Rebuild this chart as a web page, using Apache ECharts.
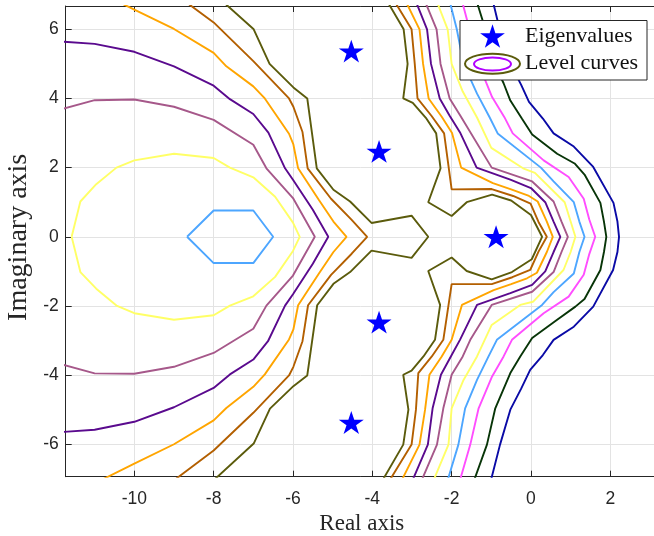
<!DOCTYPE html>
<html>
<head>
<meta charset="utf-8">
<script src="https://cdn.jsdelivr.net/npm/echarts@6/dist/echarts.min.js"></script>
<style>
  html, body { margin: 0; padding: 0; background: #ffffff; }
  #chart { width: 654px; height: 536px; }
</style>
</head>
<body>
<div id="chart"></div>
<script>
// Eigenvalues of the system matrix (real, imaginary)
const eigenvalues = [[-4.53, 5.37], [-3.83, 2.47], [-0.88, 0], [-3.83, -2.47], [-4.53, -5.37]];

// Level curves, right-hand family (top edge -> bottom edge)
const blueRight = [[-1.0,7],[-0.79,6],[-0.52,5],[-0.25,4.4],[-0.05,3.9],[0.30,3.42],[0.57,2.99],[1.08,2.61],[1.57,2.02],[2.08,0.98],[2.18,0.44],[2.22,0],[2.18,-0.44],[2.07,-0.96],[1.57,-2.02],[1.08,-2.6],[0.57,-2.98],[0.30,-3.42],[-0.02,-3.85],[-0.25,-4.4],[-0.52,-5.0],[-0.78,-6.01],[-1.0,-7]];
const greenRight = [[-1.42,7],[-1.15,6],[-0.92,5],[-0.69,4.44],[-0.52,3.94],[-0.23,3.42],[0.03,2.96],[0.66,2.4],[1.1,2.12],[1.35,1.8],[1.75,0.98],[1.84,0.44],[1.90,0],[1.84,-0.44],[1.75,-0.96],[1.35,-1.8],[1.12,-2.02],[0.66,-2.4],[0.03,-2.93],[-0.27,-3.46],[-0.52,-3.94],[-0.90,-4.96],[-1.11,-6.01],[-1.42,-7]];
const magentaRight = [[-1.78,7],[-1.55,6],[-1.32,5],[-0.98,4.04],[-0.67,3.46],[-0.46,2.99],[0.32,2.21],[0.95,1.73],[1.33,1.1],[1.47,0.5],[1.62,0],[1.47,-0.5],[1.33,-1.1],[0.95,-1.73],[0.32,-2.21],[-0.48,-2.98],[-0.69,-3.46],[-0.98,-4.04],[-1.32,-4.96],[-1.53,-6.01],[-1.78,-7]];
const lightBlueRight = [[-2.09,7],[-1.87,6],[-1.70,5],[-1.36,4.14],[-1.05,3.47],[-0.84,2.99],[0.25,2.0],[0.57,1.6],[1.08,1.0],[1.22,0.44],[1.35,0],[1.22,-0.44],[1.08,-1.06],[0.57,-1.6],[0.28,-1.97],[-0.86,-2.98],[-1.07,-3.46],[-1.36,-4.14],[-1.66,-4.96],[-1.83,-6.01],[-2.09,-7]];
const yellowRight = [[-2.44,7],[-2.10,6],[-2.0,5],[-1.72,4.2],[-1.36,3.45],[-1.0,2.57],[-0.2,1.98],[0.1,1.85],[0.85,1.0],[1.0,0.44],[1.12,0],[1.0,-0.44],[0.82,-0.96],[0.05,-1.88],[-0.27,-1.97],[-0.99,-2.55],[-1.36,-3.46],[-1.70,-4.14],[-2.0,-4.96],[-2.08,-6.01],[-2.44,-7]];
const mauveRight = [[-2.74,7],[-2.38,6],[-2.28,5],[-2.05,4],[-1.78,3.5],[-0.99,2.0],[0.03,1.6],[0.57,1.02],[0.77,0.44],[0.93,0],[0.77,-0.44],[0.57,-1.02],[0.03,-1.59],[-0.99,-1.97],[-1.53,-2.98],[-1.72,-3.46],[-2.0,-3.99],[-2.21,-4.96],[-2.37,-6.01],[-2.74,-7]];
const purpleRight = [[-2.97,7],[-2.62,6],[-2.52,5],[-2.30,4],[-2.05,3.5],[-1.78,3.0],[-1.37,2.0],[-0.52,1.65],[0.0,1.41],[0.36,1.0],[0.57,0.44],[0.74,0],[0.57,-0.44],[0.36,-1.0],[0.03,-1.39],[-0.52,-1.63],[-1.36,-1.97],[-1.79,-2.98],[-2.02,-3.46],[-2.27,-3.99],[-2.48,-4.96],[-2.60,-6.01],[-2.97,-7]];
const orangeRight = [[-3.24,7],[-2.81,6],[-2.72,5],[-2.58,4],[-2.25,3.47],[-1.99,3.0],[-1.76,2.0],[-0.96,1.55],[-0.5,1.37],[-0.05,1.18],[0.17,1.02],[0.40,0.44],[0.55,0],[0.40,-0.44],[0.15,-1.04],[-0.1,-1.2],[-0.5,-1.37],[-0.94,-1.54],[-1.74,-1.97],[-2.0,-2.98],[-2.25,-3.46],[-2.56,-3.99],[-2.67,-5.0],[-2.81,-6.01],[-3.24,-7]];
const brownRight = [[-3.54,7],[-3.01,6],[-2.93,5],[-2.86,4],[-2.51,3.5],[-2.19,2.99],[-2.0,1.37],[-0.99,1.38],[-0.45,1.18],[-0.01,0.96],[0.19,0.43],[0.40,0],[0.19,-0.43],[-0.02,-0.96],[-0.47,-1.17],[-0.99,-1.37],[-2.0,-1.37],[-2.21,-2.98],[-2.5,-3.46],[-2.84,-3.94],[-2.90,-5.0],[-3.01,-6.01],[-3.54,-7]];
const oliveRight = [[-3.72,7],[-3.21,6],[-3.11,5],[-3.22,4],[-2.98,3.87],[-2.65,3.44],[-2.39,2.99],[-2.28,1.98],[-2.59,1.0],[-2.0,0.6],[-1.62,1.0],[-0.98,1.22],[-0.50,1.05],[0.0,0.63],[0.28,0],[0.02,-0.65],[-0.48,-1.02],[-0.99,-1.23],[-1.62,-0.99],[-2.0,-0.6],[-2.59,-0.99],[-2.29,-1.97],[-2.42,-2.98],[-2.71,-3.46],[-3.01,-3.87],[-3.22,-3.99],[-3.09,-5.0],[-3.22,-6.01],[-3.72,-7]];

// Level curves, left-hand family
const oliveLeft = [[-7.96,7],[-6.99,6.0],[-6.59,5.0],[-5.99,4.32],[-5.64,4.0],[-5.40,1.98],[-4.98,1.36],[-4.56,1.02],[-4.02,0.40],[-3.01,0.61],[-2.59,0],[-3.01,-0.61],[-4.02,-0.40],[-4.56,-1.02],[-4.98,-1.36],[-5.39,-1.98],[-5.64,-4.01],[-5.99,-4.32],[-6.58,-4.97],[-6.99,-5.98],[-7.96,-7]];
const brownLeft = [[-8.95,7],[-8.0,6.2],[-7.0,5.08],[-6.1,4.0],[-5.99,3.76],[-5.76,3.03],[-5.63,1.98],[-5.04,1.1],[-4.52,0.49],[-4.13,0],[-4.52,-0.49],[-5.04,-1.1],[-5.62,-1.98],[-5.76,-3.02],[-5.99,-3.76],[-6.1,-4.01],[-7.0,-5.09],[-8.0,-6.18],[-8.95,-7]];
const orangeLeft = [[-10.77,7],[-10.0,6.57],[-9.0,6.01],[-8.0,5.32],[-7.68,4.93],[-7.0,4.35],[-6.71,4.0],[-6.10,2.98],[-5.99,2.67],[-5.87,1.98],[-5.35,1.07],[-4.98,0.44],[-4.65,0],[-4.98,-0.44],[-5.35,-1.07],[-5.87,-1.98],[-5.99,-2.68],[-6.10,-2.97],[-6.71,-3.98],[-7.0,-4.34],[-7.68,-4.95],[-8.0,-5.31],[-9.0,-6.0],[-10.0,-6.56],[-10.77,-7]];
const purpleLeft = [[-12,5.66],[-11,5.58],[-10,5.35],[-9,4.93],[-8,4.37],[-7.59,3.98],[-7,3.55],[-6.62,3.01],[-6.2,1.98],[-6.0,1.65],[-5.5,0.78],[-5.11,0],[-5.5,-0.78],[-6.0,-1.66],[-6.2,-1.99],[-6.63,-3.02],[-7,-3.55],[-7.59,-3.98],[-8,-4.37],[-9,-4.93],[-10,-5.35],[-11,-5.58],[-12,-5.66]];
const mauveLeft = [[-12,3.64],[-11,3.95],[-10,3.97],[-9,3.76],[-8,3.38],[-7,2.66],[-6.67,1.98],[-6.0,1.12],[-5.45,0],[-6.0,-1.12],[-6.67,-1.99],[-7,-2.66],[-8,-3.36],[-9,-3.76],[-10,-3.96],[-11,-3.95],[-12,-3.64]];
const yellowLeft = [[-11.58,0],[-11.36,1.02],[-10.96,1.52],[-10.45,2.0],[-10,2.21],[-9,2.40],[-8,2.28],[-7.59,2.0],[-7,1.72],[-6.45,1.16],[-6.0,0.41],[-5.83,0],[-6.0,-0.41],[-6.45,-1.16],[-7,-1.72],[-7.59,-1.99],[-8,-2.27],[-9,-2.40],[-10,-2.21],[-10.45,-1.99],[-10.96,-1.5],[-11.36,-1.02],[-11.58,0]];
const lightBlueLeft = [[-8.67,0],[-8,0.76],[-7,0.76],[-6.5,0],[-7,-0.76],[-8,-0.76],[-8.67,0]];

// Axis ranges
const xRange = [-11.73, 3.2];
const yRange = [-6.938, 6.674];

const COLORS = {
  blue: '#0a0aa6',
  green: '#083508',
  magenta: '#ff4dff',
  lightBlue: '#4da6ff',
  yellow: '#ffff66',
  mauve: '#a6588a',
  purple: '#5a0a8e',
  orange: '#ffa500',
  brown: '#b35f00',
  olive: '#5b5b0c'
};

function curve(data, color) {
  return {
    type: 'line',
    data: data,
    showSymbol: false,
    symbol: 'none',
    silent: true,
    clip: true,
    z: 2,
    lineStyle: { color: color, width: 1.9 },
    itemStyle: { color: color }
  };
}

const STAR_PATH = 'path://M0,-100L22.45,-30.9L95.11,-30.9L36.33,11.8L58.78,80.9L0,38.2L-58.78,80.9L-36.33,11.8L-95.11,-30.9L-22.45,-30.9Z';

function starPoints(cx, cy, r) {
  const pts = [];
  for (let k = 0; k < 10; k++) {
    const ang = (-90 + 36 * k) * Math.PI / 180;
    const rad = k % 2 === 0 ? r : r * 0.382;
    pts.push([cx + rad * Math.cos(ang), cy + rad * Math.sin(ang)]);
  }
  return pts;
}

const axisColor = '#262626';
const tickFont = { fontFamily: 'Liberation Sans', fontSize: 17.5, color: axisColor };
const serif = 'Liberation Serif';

const chart = echarts.init(document.getElementById('chart'), null, { renderer: 'canvas' });

chart.setOption({
  animation: false,
  backgroundColor: '#ffffff',
  grid: { left: 65.7, top: 6, right: -3.9, bottom: 59.3, containLabel: false, outerBoundsMode: 'none' },
  xAxis: [
    {
      type: 'value', position: 'bottom', min: xRange[0], max: xRange[1],
      splitNumber: 7, minInterval: 2, maxInterval: 2,
      axisLine: { show: true, onZero: false, lineStyle: { color: axisColor, width: 1 } },
      axisTick: { show: true, inside: true, length: 6, lineStyle: { color: axisColor } },
      axisLabel: Object.assign({ margin: 13, showMinLabel: false, showMaxLabel: false }, tickFont),
      splitLine: { show: true, lineStyle: { color: '#e3e3e3', width: 1 } },
      name: 'Real axis', nameLocation: 'middle', nameGap: 29,
      nameTextStyle: { fontFamily: serif, fontSize: 23, color: axisColor }
    },
    {
      type: 'value', position: 'top', min: xRange[0], max: xRange[1],
      splitNumber: 7, minInterval: 2, maxInterval: 2,
      axisLine: { show: true, onZero: false, lineStyle: { color: axisColor, width: 1 } },
      axisTick: { show: true, inside: true, length: 6, lineStyle: { color: axisColor } },
      axisLabel: { show: false },
      splitLine: { show: false }
    }
  ],
  yAxis: {
    type: 'value', min: yRange[0], max: yRange[1],
    splitNumber: 7, minInterval: 2, maxInterval: 2,
    axisLine: { show: true, onZero: false, lineStyle: { color: axisColor, width: 1 } },
    axisTick: { show: true, inside: true, length: 6, lineStyle: { color: axisColor } },
    axisLabel: Object.assign({ margin: 7, showMinLabel: false, showMaxLabel: false }, tickFont),
    splitLine: { show: true, lineStyle: { color: '#e3e3e3', width: 1 } },
    name: 'Imaginary axis', nameLocation: 'middle', nameGap: 27, nameRotate: 90,
    nameTextStyle: { fontFamily: serif, fontSize: 28, color: axisColor, padding: [0, 0, 0, 8] }
  },
  series: [
    curve(lightBlueLeft, COLORS.lightBlue),
    curve(yellowLeft, COLORS.yellow),
    curve(mauveLeft, COLORS.mauve),
    curve(purpleLeft, COLORS.purple),
    curve(orangeLeft, COLORS.orange),
    curve(brownLeft, COLORS.brown),
    curve(oliveLeft, COLORS.olive),
    curve(oliveRight, COLORS.olive),
    curve(brownRight, COLORS.brown),
    curve(orangeRight, COLORS.orange),
    curve(purpleRight, COLORS.purple),
    curve(mauveRight, COLORS.mauve),
    curve(yellowRight, COLORS.yellow),
    curve(lightBlueRight, COLORS.lightBlue),
    curve(magentaRight, COLORS.magenta),
    curve(greenRight, COLORS.green),
    curve(blueRight, COLORS.blue),
    {
      type: 'scatter',
      name: 'Eigenvalues',
      data: eigenvalues,
      symbol: STAR_PATH,
      symbolSize: [25, 24],
      symbolKeepAspect: true,
      itemStyle: { color: '#0000ff', opacity: 1 },
      silent: true,
      z: 5
    }
  ],
  graphic: [
    { type: 'rect', z: 100, shape: { x: 460, y: 20.5, width: 187, height: 59.5 },
      style: { fill: '#ffffff', stroke: axisColor, lineWidth: 1 } },
    { type: 'polygon', z: 101, shape: { points: starPoints(492.5, 37.2, 13) },
      style: { fill: '#0000ff' } },
    { type: 'ellipse', z: 101, shape: { cx: 492.5, cy: 63.7, rx: 27.5, ry: 10 },
      style: { fill: 'none', stroke: COLORS.olive, lineWidth: 2 } },
    { type: 'ellipse', z: 101, shape: { cx: 492.5, cy: 64, rx: 18.5, ry: 6.5 },
      style: { fill: 'none', stroke: '#b000ff', lineWidth: 2 } },
    { type: 'text', z: 101, style: { text: 'Eigenvalues', x: 525, y: 36, fontFamily: serif, fontSize: 22,
        fill: '#111111', verticalAlign: 'middle', align: 'left' } },
    { type: 'text', z: 101, style: { text: 'Level curves', x: 525, y: 63.3, fontFamily: serif, fontSize: 22,
        fill: '#111111', verticalAlign: 'middle', align: 'left' } }
  ]
});
</script>
</body>
</html>
